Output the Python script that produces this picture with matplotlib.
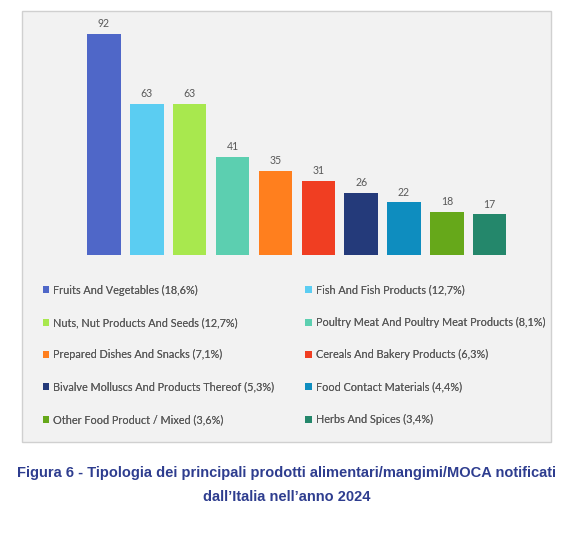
import matplotlib
matplotlib.use("Agg")
import matplotlib.pyplot as plt
from matplotlib.patches import Rectangle, Patch

# ---- Data ----
categories = ["Fruits And Vegetables", "Fish And Fish Products",
              "Nuts, Nut Products And Seeds", "Poultry Meat And Poultry Meat Products",
              "Prepared Dishes And Snacks", "Cereals And Bakery Products",
              "Bivalve Molluscs And Products Thereof", "Food Contact Materials",
              "Other Food Product / Mixed", "Herbs And Spices"]
counts = [92, 63, 63, 41, 35, 31, 26, 22, 18, 17]
shares = ["18,6%", "12,7%", "12,7%", "8,1%", "7,1%", "6,3%", "5,3%", "4,4%", "3,6%", "3,4%"]
colors = ["#4f67c8", "#5bcdf2", "#a8e84e", "#5ccfb0", "#ff7f1e",
          "#f03e22", "#243a7a", "#0e8dbf", "#66a81a", "#24876b"]
caption = ["Figura 6 - Tipologia dei principali prodotti alimentari/mangimi/MOCA notificati",
           "dall\u2019Italia nell\u2019anno 2024"]

W, H = 577, 537
TXT = "#595959"
plt.rcParams['font.family'] = ['Lato', 'DejaVu Sans']

fig = plt.figure(figsize=(W / 100, H / 100), dpi=100)


def px(x, y):
    """pixel (from top-left) -> figure fraction"""
    return x / W, 1 - y / H


# grey chart frame behind everything
x0, y0 = px(22.3, 442)
fig.patches.append(Rectangle((x0, y0), (551 - 22.3) / W, (442 - 11) / H,
                             transform=fig.transFigure, facecolor="#f2f2f2",
                             edgecolor="#d0d0d0", linewidth=1.0, zorder=-1))

# axes placement: bar 0 centred at 104 px, pitch 42.86 px, baseline at 255.3 px
pitch, c0, base, top = 42.86, 104.0, 255.3, 20.0
left_px, right_px = 40.0, 535.0
ax = fig.add_axes([left_px / W, 1 - base / H, (right_px - left_px) / W, (base - top) / H])
ax.set_zorder(1)
ax.set_facecolor("none")
ax.set_xlim((left_px - c0) / pitch, (right_px - c0) / pitch)
ax.set_ylim(0, (base - top) / 2.402)

bars = ax.bar(range(len(counts)), counts, width=0.78, color=colors)
ax.bar_label(bars, padding=3.5, fontsize=7.6, color=TXT)
ax.axis("off")

# legend: two columns, filled row-wise like the original
labels = [f"{c} ({s})" for c, s in zip(categories, shares)]
handles = [Patch(facecolor=col, edgecolor="none") for col in colors]
for col_idx, x_anchor in enumerate([37.3, 300.0]):
    idx = list(range(col_idx, len(labels), 2))
    leg = fig.legend([handles[i] for i in idx], [labels[i] for i in idx],
                     loc="center left", bbox_to_anchor=px(x_anchor, 354.8),
                     bbox_transform=fig.transFigure, frameon=False, borderpad=0,
                     fontsize=7.8, labelcolor=TXT, handlelength=0.62, handleheight=0.62,
                     handletextpad=0.32, labelspacing=1.97)
    fig.add_artist(leg)

# caption below the frame
for line, yb in zip(caption, [476.7, 501.0]):
    fig.text(286.7 / W, 1 - yb / H, line, ha="center", va="baseline",
             fontsize=10.5, fontweight="bold", color="#2e3d8f",
             family=["Liberation Sans", "DejaVu Sans"])

fig.savefig("out.png", dpi=100)
